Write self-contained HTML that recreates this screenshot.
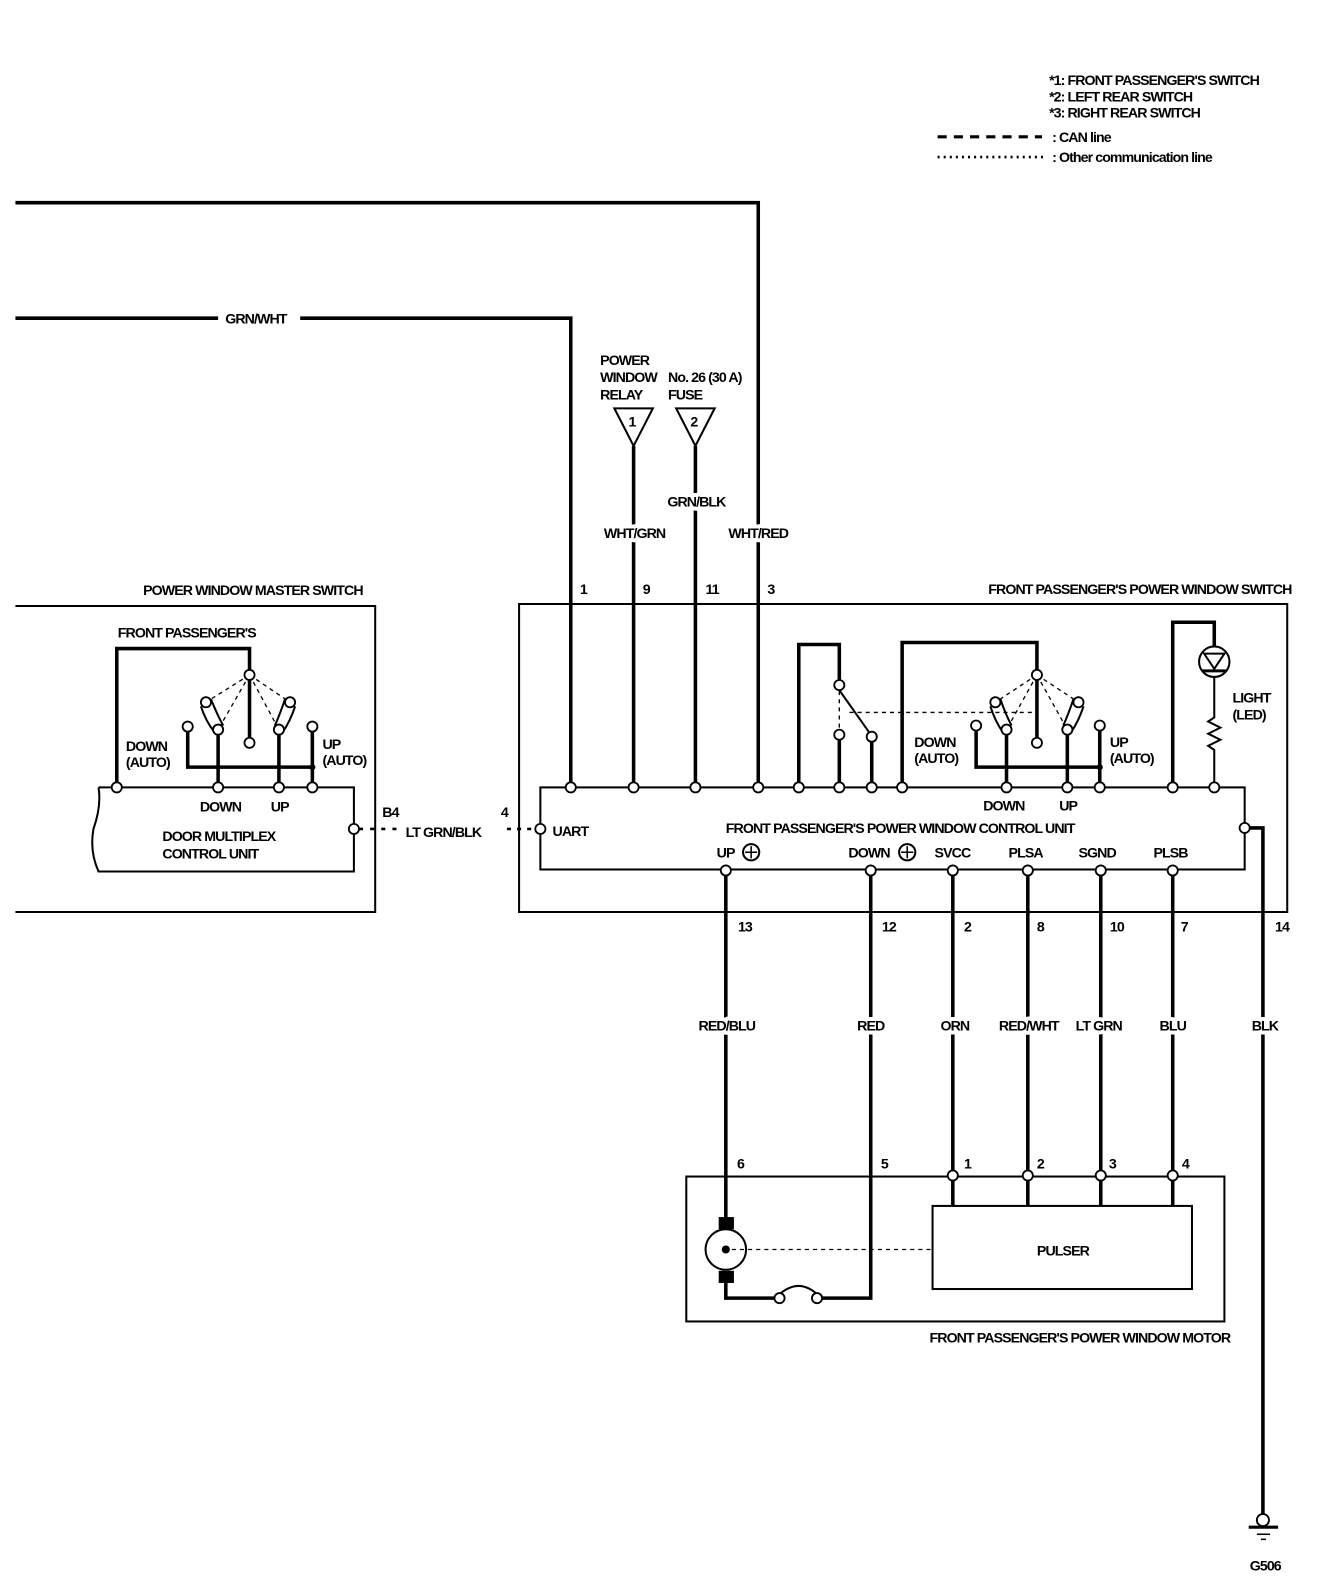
<!DOCTYPE html>
<html><head><meta charset="utf-8"><style>
html,body{margin:0;padding:0;background:#fff;}
svg{display:block}
text{font-family:"Liberation Sans",sans-serif;font-weight:bold;font-size:14px;letter-spacing:-0.9px;fill:#000}
.lb{stroke:#fff;stroke-width:8px;paint-order:stroke;stroke-linejoin:round;text-anchor:middle}
.w{stroke:#000;stroke-width:3.5;fill:none}
.t{stroke:#000;stroke-width:2;fill:none}
.c{stroke:#000;stroke-width:1.8;fill:#fff}
.d{stroke:#000;stroke-width:1.3;fill:none;stroke-dasharray:4 4}
</style></head><body>
<svg width="1328" height="1590" viewBox="0 0 1310 1569" xmlns="http://www.w3.org/2000/svg">
<!-- legend -->
<text x="1035" y="84">*1: FRONT PASSENGER'S SWITCH</text>
<text x="1035" y="100">*2: LEFT REAR SWITCH</text>
<text x="1035" y="116">*3: RIGHT REAR SWITCH</text>
<line x1="925" y1="135" x2="1028" y2="135" stroke="#000" stroke-width="3" stroke-dasharray="9 7"/>
<text x="1038" y="140">: CAN line</text>
<line x1="925" y1="155" x2="1033" y2="155" stroke="#000" stroke-width="2.5" stroke-dasharray="2 4"/>
<text x="1038" y="160">: Other communication line</text>

<!-- top wires -->
<polyline class="w" stroke-width="3" points="15,200 748,200 748,777"/>
<line class="w" x1="15" y1="314" x2="215" y2="314"/>
<text x="222" y="319">GRN/WHT</text>
<polyline class="w" points="296,314 563,314 563,777"/>
<text x="592" y="360">POWER</text><text x="592" y="377">WINDOW</text><text x="592" y="394">RELAY</text>
<text x="659" y="377">No. 26 (30 A)</text><text x="659" y="394">FUSE</text>
<polygon points="606,403 644,403 625,440" class="t"/><text x="620" y="421">1</text>
<polygon points="667,403 705,403 686,440" class="t"/><text x="681" y="421">2</text>
<line class="w" x1="625" y1="440" x2="625" y2="777"/>
<line class="w" x1="686" y1="440" x2="686" y2="777"/>
<text class="lb" x="687" y="500">GRN/BLK</text>
<text class="lb" x="626" y="531">WHT/GRN</text>
<text class="lb" x="748" y="531">WHT/RED</text>
<text x="572" y="586">1</text><text x="634" y="586">9</text><text x="696" y="586">11</text><text x="757" y="586">3</text>

<!-- master switch -->
<text x="141" y="587">POWER WINDOW MASTER SWITCH</text>
<polyline class="t" points="15,598 370,598 370,900 15,900"/>
<path class="t" d="M97,777 L349,777 L349,860 L97,860 Q88,840 92,818 Q100,795 97,777"/>
<text x="116" y="629">FRONT PASSENGER'S</text>
<polyline class="w" points="115,777 115,640 246,640 246,661"/>
<line class="w" x1="246" y1="671" x2="246" y2="728"/>
<polyline class="w" points="185,722 185,757 308,757"/>
<line class="w" x1="308" y1="722" x2="308" y2="777"/>
<line class="w" x1="215" y1="725" x2="215" y2="777"/>
<line class="w" x1="275" y1="725" x2="275" y2="777"/>
<circle cx="308" cy="757" r="3" fill="#000"/>
<path class="t" d="M198,697 Q203,712 211,722 M208,690 Q214,705 220,716"/>
<path class="t" d="M291,697 Q286,712 279,722 M281,690 Q276,705 271,716"/>
<path class="d" d="M246,666 L203,693 M246,666 L215,720 M246,666 L286,693 M246,666 L275,720"/>
<g class="c"><circle cx="246" cy="666" r="5"/><circle cx="246" cy="733" r="5"/><circle cx="203" cy="693" r="5"/><circle cx="215" cy="720" r="5"/><circle cx="286" cy="693" r="5"/><circle cx="275" cy="720" r="5"/><circle cx="185" cy="717" r="5"/><circle cx="308" cy="717" r="5"/>
<circle cx="115" cy="777" r="5"/><circle cx="215" cy="777" r="5"/><circle cx="275" cy="777" r="5"/><circle cx="308" cy="777" r="5"/><circle cx="349" cy="818" r="5"/></g>
<text x="124" y="741">DOWN</text><text x="124" y="757">(AUTO)</text>
<text x="318" y="739">UP</text><text x="318" y="755">(AUTO)</text>
<text x="197" y="801">DOWN</text><text x="267" y="801">UP</text>
<text x="160" y="830">DOOR MULTIPLEX</text><text x="160" y="847">CONTROL UNIT</text>
<line x1="354" y1="818" x2="392" y2="818" stroke="#000" stroke-width="2.5" stroke-dasharray="4 7"/>
<text x="377" y="806">B4</text>
<text x="400" y="826">LT GRN/BLK</text>
<text x="494" y="806">4</text>
<line x1="500" y1="818" x2="528" y2="818" stroke="#000" stroke-width="2.5" stroke-dasharray="4 6"/>

<!-- front passenger switch -->
<text x="975" y="586">FRONT PASSENGER'S POWER WINDOW SWITCH</text>
<polyline class="t" points="563,596 512,596 512,900 1270,900 1270,596 748,596"/>
<line class="t" x1="563" y1="596" x2="748" y2="596"/>
<rect class="t" x="533" y="777" width="695" height="81"/>
<polyline class="w" points="788,777 788,636 828,636 828,671"/>
<line class="t" x1="828" y1="681" x2="857" y2="722"/>
<line class="w" x1="828" y1="730" x2="828" y2="777"/>
<line class="w" x1="860" y1="732" x2="860" y2="777"/>
<line class="d" x1="828" y1="682" x2="828" y2="720"/>
<line class="d" x1="838" y1="703" x2="1023" y2="703"/>
<polyline class="w" points="890,777 890,634 1023,634 1023,661"/>
<line class="w" x1="1023" y1="671" x2="1023" y2="728"/>
<polyline class="w" points="963,721 963,757 1085,757"/>
<line class="w" x1="1085" y1="721" x2="1085" y2="777"/>
<line class="w" x1="993" y1="725" x2="993" y2="777"/>
<line class="w" x1="1053" y1="725" x2="1053" y2="777"/>
<circle cx="1085" cy="757" r="3" fill="#000"/>
<path class="t" d="M977,697 Q982,712 989,722 M987,690 Q992,705 998,716"/>
<path class="t" d="M1069,697 Q1064,712 1057,722 M1059,690 Q1054,705 1049,716"/>
<path class="d" d="M1023,666 L982,693 M1023,666 L993,720 M1023,666 L1064,693 M1023,666 L1053,720"/>
<polyline class="w" points="1157,777 1157,614 1198,614 1198,638"/>
<circle cx="1198" cy="653" r="15" class="t"/>
<polygon points="1188,645 1208,645 1198,660" class="t"/>
<line x1="1186" y1="662" x2="1210" y2="662" stroke="#000" stroke-width="3"/>
<polyline class="t" points="1198,668 1198,708 1192,712 1204,718 1192,724 1204,730 1192,736 1198,740 1198,777"/>
<text x="1216" y="693">LIGHT</text><text x="1216" y="710">(LED)</text>
<g class="c">
<circle cx="828" cy="676" r="5"/><circle cx="828" cy="725" r="5"/><circle cx="860" cy="727" r="5"/>
<circle cx="1023" cy="666" r="5"/><circle cx="1023" cy="733" r="5"/><circle cx="982" cy="693" r="5"/><circle cx="993" cy="720" r="5"/><circle cx="1064" cy="693" r="5"/><circle cx="1053" cy="720" r="5"/><circle cx="963" cy="716" r="5"/><circle cx="1085" cy="716" r="5"/>
<circle cx="563" cy="777" r="5"/><circle cx="625" cy="777" r="5"/><circle cx="686" cy="777" r="5"/><circle cx="748" cy="777" r="5"/><circle cx="788" cy="777" r="5"/><circle cx="828" cy="777" r="5"/><circle cx="860" cy="777" r="5"/><circle cx="890" cy="777" r="5"/><circle cx="993" cy="777" r="5"/><circle cx="1053" cy="777" r="5"/><circle cx="1085" cy="777" r="5"/><circle cx="1157" cy="777" r="5"/><circle cx="1198" cy="777" r="5"/>
<circle cx="533" cy="818" r="5"/><circle cx="1228" cy="817" r="5"/>
</g>
<text x="902" y="737">DOWN</text><text x="902" y="753">(AUTO)</text>
<text x="1095" y="737">UP</text><text x="1095" y="753">(AUTO)</text>
<text x="970" y="800">DOWN</text><text x="1045" y="800">UP</text>
<text x="545" y="825">UART</text>
<text x="716" y="822">FRONT PASSENGER'S POWER WINDOW CONTROL UNIT</text>
<text x="707" y="846">UP</text><circle cx="741" cy="841" r="8" class="t"/><path d="M735,841h12M741,835v12" stroke="#000" stroke-width="1.5"/>
<text x="837" y="846">DOWN</text><circle cx="895" cy="841" r="8" class="t"/><path d="M889,841h12M895,835v12" stroke="#000" stroke-width="1.5"/>
<text x="922" y="846">SVCC</text><text x="995" y="846">PLSA</text><text x="1064" y="846">SGND</text><text x="1138" y="846">PLSB</text>
<!-- down wires -->
<polyline class="w" points="1233,817 1246,817 1246,1494"/>
<line class="w" x1="716" y1="864" x2="716" y2="1210"/>
<polyline class="w" points="859,864 859,1281 811,1281"/>
<line class="w" x1="940" y1="864" x2="940" y2="1190"/>
<line class="w" x1="1014" y1="864" x2="1014" y2="1190"/>
<line class="w" x1="1086" y1="864" x2="1086" y2="1190"/>
<line class="w" x1="1157" y1="864" x2="1157" y2="1190"/>
<g class="c"><circle cx="716" cy="859" r="5"/><circle cx="859" cy="859" r="5"/><circle cx="940" cy="859" r="5"/><circle cx="1014" cy="859" r="5"/><circle cx="1086" cy="859" r="5"/><circle cx="1157" cy="859" r="5"/></g>
<text x="728" y="919">13</text><text x="870" y="919">12</text><text x="951" y="919">2</text><text x="1023" y="919">8</text><text x="1095" y="919">10</text><text x="1165" y="919">7</text><text x="1258" y="919">14</text>
<text class="lb" x="717" y="1017">RED/BLU</text><text class="lb" x="859" y="1017">RED</text><text class="lb" x="942" y="1017">ORN</text><text class="lb" x="1015" y="1017">RED/WHT</text><text class="lb" x="1084" y="1017">LT GRN</text><text class="lb" x="1157" y="1017">BLU</text><text class="lb" x="1248" y="1017">BLK</text>
<!-- motor -->
<rect class="t" x="677" y="1161" width="531" height="143"/>
<rect class="t" x="920" y="1190" width="256" height="82"/>
<text x="1023" y="1239">PULSER</text>
<text x="727" y="1153">6</text><text x="869" y="1153">5</text><text x="951" y="1153">1</text><text x="1023" y="1153">2</text><text x="1094" y="1153">3</text><text x="1166" y="1153">4</text>
<g class="c"><circle cx="940" cy="1160" r="5"/><circle cx="1014" cy="1160" r="5"/><circle cx="1086" cy="1160" r="5"/><circle cx="1157" cy="1160" r="5"/></g>
<rect x="709" y="1201" width="15" height="12" fill="#000"/>
<rect x="709" y="1254" width="15" height="12" fill="#000"/>
<circle cx="716" cy="1233" r="20" class="t" fill="#fff"/>
<circle cx="716" cy="1233" r="4" fill="#000"/>
<line class="d" x1="722" y1="1233" x2="918" y2="1233"/>
<polyline class="w" points="716,1266 716,1281 764,1281"/>
<path class="t" d="M768,1278 Q788,1260 807,1278"/>
<g class="c"><circle cx="769" cy="1281" r="5"/><circle cx="806" cy="1281" r="5"/></g>
<text x="917" y="1325">FRONT PASSENGER'S POWER WINDOW MOTOR</text>
<circle cx="1246" cy="1500" r="6" class="c"/>
<line x1="1232" y1="1507" x2="1261" y2="1507" stroke="#000" stroke-width="3"/>
<line x1="1240" y1="1514" x2="1253" y2="1514" stroke="#000" stroke-width="1.5"/>
<line x1="1244" y1="1519" x2="1249" y2="1519" stroke="#000" stroke-width="1.5"/>
<text x="1233" y="1550">G506</text>
</svg>
</body></html>
